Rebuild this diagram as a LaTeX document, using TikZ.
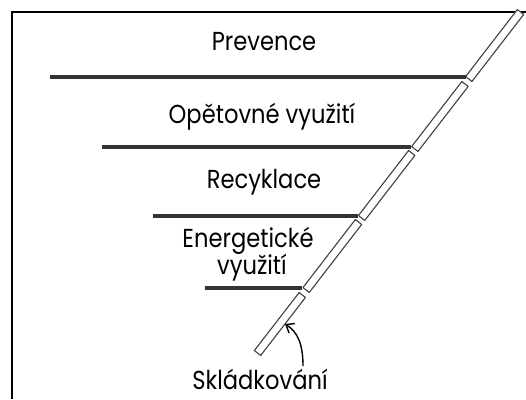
\documentclass[tikz,border=0pt]{standalone}
\usepackage{fontspec}
\setmainfont{Poppins}
\usetikzlibrary{calc,arrows.meta}
\tikzset{
  lbl/.style={font=\fontsize{26}{28}\selectfont, inner sep=0pt, anchor=base, xscale=0.87},
  shelf/.style={line width=3.5pt, black!80},
  frame/.style={line width=2pt, black},
  barseg/.style={draw=black!75, fill=white, line width=1.1pt, line join=round},
  pointer/.style={line width=1.4pt, black, -{Straight Barb[length=7pt,width=11pt]}}
}
\newcommand{\barpiece}[2]{%
  \draw[barseg] ($(#1)!4pt!90:(#2)$) -- ($(#2)!4pt!-90:(#1)$) -- ($(#2)!4pt!90:(#1)$) -- ($(#1)!4pt!-90:(#2)$) -- cycle;}
\begin{document}
\begin{tikzpicture}[x=1pt,y=-1pt]
\useasboundingbox (0,0) rectangle (526,399);
% frame
\draw[frame] (12,399) -- (12,12) -- (526,12);
% shelves
\draw[shelf] (50,77) -- (466,77);
\draw[shelf] (102,147) -- (411,147);
\draw[shelf] (153,216) -- (358,216);
\draw[shelf] (205,288) -- (302,288);
% bar coordinates
\coordinate (a1) at (520.5,12);  \coordinate (b1) at (468.8,79);
\coordinate (a2) at (465.0,84);  \coordinate (b2) at (414.8,149);
\coordinate (a3) at (411.7,153); \coordinate (b3) at (361.6,218);
\coordinate (a4) at (358.5,222); \coordinate (b4) at (306.1,290);
\coordinate (a5) at (302.3,295); \coordinate (b5) at (257.5,353);
\barpiece{b1}{a1}
\barpiece{b2}{a2}
\barpiece{b3}{a3}
\barpiece{b4}{a4}
\barpiece{b5}{a5}
% labels
\node[lbl] (prev) at (264,50) {Prevence};
\node[lbl] (reuse) at (262,123) {Opětovné využití};
\node[lbl] (recy) at (264,188) {Recyklace};
\node[lbl] (ener) at (248,247) {Energetické};
\node[lbl] (vyu) at (252,274) {využití};
\node[lbl] (skl) at (260,389) {Skládkování};
% pointer
\coordinate (ps) at (303,366);
\coordinate (pt) at (285,324);
\draw[pointer] (ps) .. controls (303,345) and (298,332) .. (pt);
\end{tikzpicture}
\end{document}
